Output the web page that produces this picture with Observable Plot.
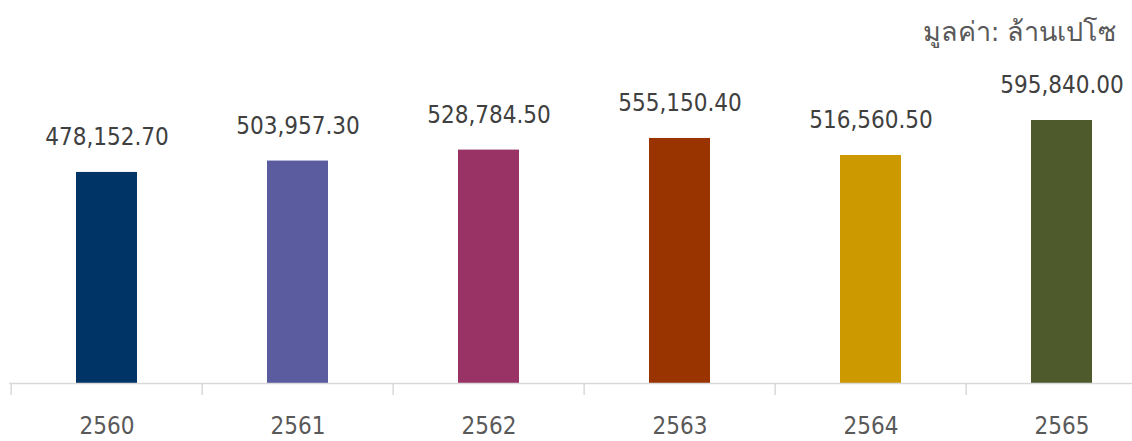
<!DOCTYPE html>
<html>
<head>
<meta charset="utf-8">
<script src="https://cdn.jsdelivr.net/npm/d3@7"></script>
<script src="https://cdn.jsdelivr.net/npm/@observablehq/plot@0.6"></script>
<style>
  html, body { margin: 0; padding: 0; background: #fff; }
  #wrap { position: relative; width: 1132px; height: 441px; overflow: hidden; }
  #title { position: absolute; right: 16px; top: 10px; font: 27px "DejaVu Sans Condensed", "Noto Sans", sans-serif; color: #595959; white-space: nowrap; }
</style>
</head>
<body>
<div id="wrap"><div id="title">มูลค่า: ล้านเปโซ</div></div>
<script>
const years = ["2560", "2561", "2562", "2563", "2564", "2565"];
const values = [478152.70, 503957.30, 528784.50, 555150.40, 516560.50, 595840.00];
const colors = ["#003366", "#5B5BA0", "#993366", "#993300", "#CC9900", "#4E5A2C"];

const data = years.map((y, i) => ({year: y, value: values[i], color: colors[i]}));
const fmt = d3.format(",.2f");
const step = 191.7;
const font = '"DejaVu Sans Condensed", "Noto Sans", sans-serif';

const chart = Plot.plot({
  width: 1132,
  height: 441,
  marginLeft: 9,
  marginRight: 0,
  marginTop: 0,
  marginBottom: 58,
  style: {fontFamily: font, background: "transparent", overflow: "visible"},
  x: {domain: years, range: [9, 9 + 6 * step], paddingInner: 0.68, paddingOuter: 0.34, axis: null, label: null},
  y: {domain: [0, 867700], axis: null},
  marks: [
    Plot.barY(data, {x: "year", y: "value", fill: "color"}),
    Plot.ruleY([0], {stroke: "#d9d9d9", strokeWidth: 1.5}),
    Plot.axisX({fill: "none", stroke: "#d9d9d9", strokeWidth: 1.5, tickSize: 12, dx: -step / 2, label: null}),
    Plot.axisX({tickSize: 0, tickPadding: 33, fontSize: 24, fill: "#595959", label: null}),
    Plot.text(data, {x: "year", y: "value", text: d => fmt(d.value), lineAnchor: "bottom", dy: -27, fontSize: 24, fill: "#404040"})
  ]
});
document.getElementById("wrap").prepend(chart);
chart.style.position = "absolute";
chart.style.left = "0";
chart.style.top = "0";
</script>
</body>
</html>
